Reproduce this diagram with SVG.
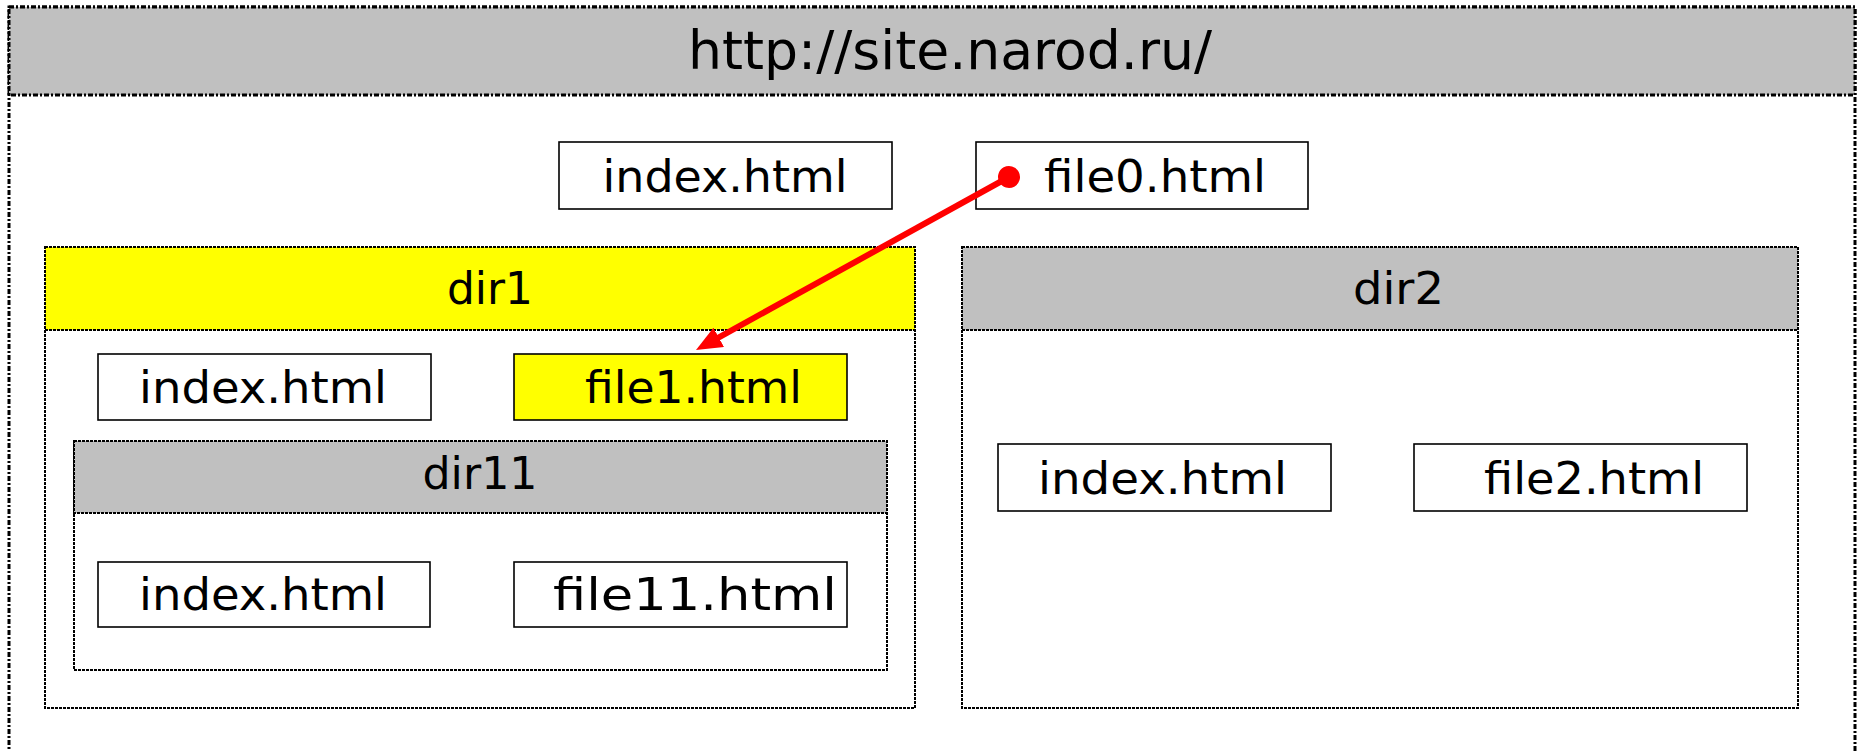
<svg xmlns="http://www.w3.org/2000/svg" width="1858" height="751" viewBox="0 0 1858 751">
<style>
text{font-family:"DejaVu Sans","Liberation Sans",sans-serif;fill:#000}
.lbl{font-size:44px;text-anchor:middle}
.ttl{font-size:54px}
.outer{fill:#fff;stroke:#000;stroke-width:3;stroke-dasharray:5 2 2 2}
.outerhd{fill:#c0c0c0;stroke:#000;stroke-width:3;stroke-dasharray:5 2 2 2}
.dir{fill:#fff;stroke:#000;stroke-width:2;stroke-dasharray:3 1}
.hdg{fill:#c0c0c0;stroke:#000;stroke-width:2;stroke-dasharray:3 1}
.hdy{fill:#ffff00;stroke:#000;stroke-width:2;stroke-dasharray:3 1}
.file{fill:#fff;stroke:#000;stroke-width:1.6}
.filey{fill:#ffff00;stroke:#000;stroke-width:1.6}
.link{fill:none;stroke:#ff0000;stroke-width:6}
</style>
<defs>
<marker id="head" markerUnits="userSpaceOnUse" viewBox="0 0 26 22" markerWidth="26" markerHeight="22" refX="6" refY="11" orient="auto">
<path d="M0,0 L26,11 L0,22 Z" fill="#ff0000"/>
</marker>
<marker id="dot" markerUnits="userSpaceOnUse" viewBox="0 0 24 24" markerWidth="24" markerHeight="24" refX="12" refY="12" orient="auto">
<circle cx="12" cy="12" r="11" fill="#ff0000"/>
</marker>
</defs>
<g id="site">
<rect class="outer" x="9" y="7" width="1846" height="800"/>
<rect class="outerhd" x="9" y="7" width="1846" height="88"/>
<text class="ttl" x="688" y="69" textLength="524" lengthAdjust="spacingAndGlyphs">http://site.narod.ru/</text>
</g>
<g id="root-index">
<rect class="file" x="559" y="142" width="333" height="67"/>
<text class="lbl" x="725" y="192" textLength="245" lengthAdjust="spacingAndGlyphs">index.html</text>
</g>
<g id="file0">
<rect class="file" x="976" y="142" width="332" height="67"/>
<text class="lbl" x="1155" y="192" textLength="222" lengthAdjust="spacingAndGlyphs">file0.html</text>
</g>
<g id="dir1">
<rect class="dir" x="45" y="247" width="870" height="461"/>
<rect class="hdy" x="45" y="247" width="870" height="83"/>
<text class="lbl" x="490" y="304" textLength="86" lengthAdjust="spacingAndGlyphs">dir1</text>
</g>
<g id="dir1-index">
<rect class="file" x="98" y="354" width="333" height="66"/>
<text class="lbl" x="263" y="403" textLength="248" lengthAdjust="spacingAndGlyphs">index.html</text>
</g>
<g id="file1">
<rect class="filey" x="514" y="354" width="333" height="66"/>
<text class="lbl" x="693.5" y="403" textLength="217" lengthAdjust="spacingAndGlyphs">file1.html</text>
</g>
<g id="dir11">
<rect class="dir" x="74" y="441" width="813" height="229"/>
<rect class="hdg" x="74" y="441" width="813" height="72"/>
<text class="lbl" x="480" y="489" textLength="115" lengthAdjust="spacingAndGlyphs">dir11</text>
</g>
<g id="dir11-index">
<rect class="file" x="98" y="562" width="332" height="65"/>
<text class="lbl" x="263" y="610" textLength="248" lengthAdjust="spacingAndGlyphs">index.html</text>
</g>
<g id="file11">
<rect class="file" x="514" y="562" width="333" height="65"/>
<text class="lbl" x="695" y="610" textLength="284" lengthAdjust="spacingAndGlyphs">file11.html</text>
</g>
<g id="dir2">
<rect class="dir" x="962" y="247" width="836" height="461"/>
<rect class="hdg" x="962" y="247" width="836" height="83"/>
<text class="lbl" x="1398.5" y="304" textLength="91" lengthAdjust="spacingAndGlyphs">dir2</text>
</g>
<g id="dir2-index">
<rect class="file" x="998" y="444" width="333" height="67"/>
<text class="lbl" x="1162.5" y="494" textLength="249" lengthAdjust="spacingAndGlyphs">index.html</text>
</g>
<g id="file2">
<rect class="file" x="1414" y="444" width="333" height="67"/>
<text class="lbl" x="1594" y="494" textLength="220" lengthAdjust="spacingAndGlyphs">file2.html</text>
</g>
<g id="connectors">
<path class="link" d="M1009,177 L713.5,340.3" marker-start="url(#dot)" marker-end="url(#head)"/>
</g>
</svg>
